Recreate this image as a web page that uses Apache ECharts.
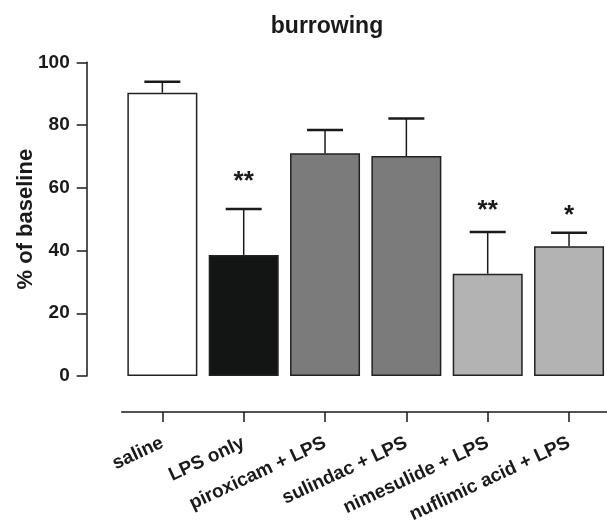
<!DOCTYPE html>
<html>
<head>
<meta charset="utf-8">
<script src="https://cdn.jsdelivr.net/npm/echarts@6/dist/echarts.min.js"></script>
<style>
html,body{margin:0;padding:0;background:#fff;}
#chart{width:607px;height:521px;}
</style>
</head>
<body>
<div id="chart"></div>
<script>
// ---- data ----
const categories = ['saline', 'LPS only', 'piroxicam + LPS', 'sulindac + LPS', 'nimesulide + LPS', 'nuflimic acid + LPS'];
const means = [90.3, 38.6, 71.0, 70.1, 32.6, 41.4];
const upperErr = [93.8, 53.2, 78.4, 82.1, 45.9, 45.7];
const sigLabels = ['', '**', '', '', '**', '*'];
const sigLevels = [null, 62, null, null, 52.7, 51];
const barColors = ['#ffffff', '#131514', '#7b7b7b', '#7b7b7b', '#b3b3b3', '#b3b3b3'];
const yTicks = [0, 20, 40, 60, 80, 100];

const FONT = '"Liberation Sans", Arial, Helvetica, sans-serif';
const chart = echarts.init(document.getElementById('chart'), null, {renderer: 'canvas'});

const option = {
  backgroundColor: '#ffffff',
  animation: false,
  title: {
    text: 'burrowing',
    left: 322, textAlign: 'center',
    top: 10,
    textStyle: {fontFamily: FONT, fontWeight: 'bold', fontSize: 23, color: '#1a1a1a'}
  },
  grid: {left: 121.7, right: -2.7, top: 62.3, bottom: 145, containLabel: false, outerBoundsMode: 'none'},
  xAxis: {
    type: 'category',
    data: categories,
    offset: 36,
    axisLine: {show: true, onZero: false, lineStyle: {color: '#1a1a1a', width: 1.5}},
    axisTick: {show: true, alignWithLabel: true, length: 10, lineStyle: {color: '#1a1a1a', width: 1.5}},
    axisLabel: {
      interval: 0, rotate: 25, margin: 30,
      fontFamily: FONT, fontWeight: 'bold', fontSize: 19, color: '#1a1a1a'
    }
  },
  yAxis: {
    type: 'value',
    min: yTicks[0], max: yTicks[yTicks.length - 1], interval: 20,
    offset: 35,
    name: '% of baseline',
    nameLocation: 'middle',
    nameGap: 50,
    nameRotate: 90,
    nameMoveOverlap: false,
    nameTextStyle: {fontFamily: FONT, fontWeight: 'bold', fontSize: 22, color: '#1a1a1a'},
    axisLine: {show: true, onZero: false, lineStyle: {color: '#1a1a1a', width: 1.5}},
    axisTick: {show: true, length: 10, lineStyle: {color: '#1a1a1a', width: 1.5}},
    axisLabel: {margin: 17, fontFamily: FONT, fontWeight: 'bold', fontSize: 19, color: '#1a1a1a'},
    splitLine: {show: false}
  },
  series: [
    {
      type: 'bar',
      barWidth: 70,
      data: means.map((v, i) => ({
        value: v,
        itemStyle: {color: barColors[i], borderColor: '#222222', borderWidth: 1.5}
      })),
      z: 2
    },
    {
      type: 'custom',
      z: 3,
      data: means.map((v, i) => [i, v, upperErr[i]]),
      renderItem: function (params, api) {
        const i = api.value(0);
        const base = api.coord([i, api.value(1)]);
        const top = api.coord([i, api.value(2)]);
        const half = 18;
        return {
          type: 'group',
          children: [
            {type: 'line', shape: {x1: base[0], y1: base[1], x2: top[0], y2: top[1]},
             style: {stroke: '#1a1a1a', lineWidth: 1.5}},
            {type: 'line', shape: {x1: top[0] - half, y1: top[1], x2: top[0] + half, y2: top[1]},
             style: {stroke: '#1a1a1a', lineWidth: 2.5}}
          ]
        };
      }
    },
    {
      type: 'custom',
      z: 4,
      data: sigLevels.map((v, i) => [i, v == null ? 0 : v, sigLabels[i]]),
      renderItem: function (params, api) {
        const i = params.dataIndex;
        if (!sigLabels[i]) return null;
        const p = api.coord([api.value(0), sigLevels[i]]);
        return {
          type: 'text',
          style: {
            x: p[0], y: p[1], text: sigLabels[i],
            align: 'center', verticalAlign: 'middle',
            font: 'bold 26px ' + FONT, fill: '#1a1a1a'
          }
        };
      }
    }
  ]
};
chart.setOption(option);
</script>
</body>
</html>
